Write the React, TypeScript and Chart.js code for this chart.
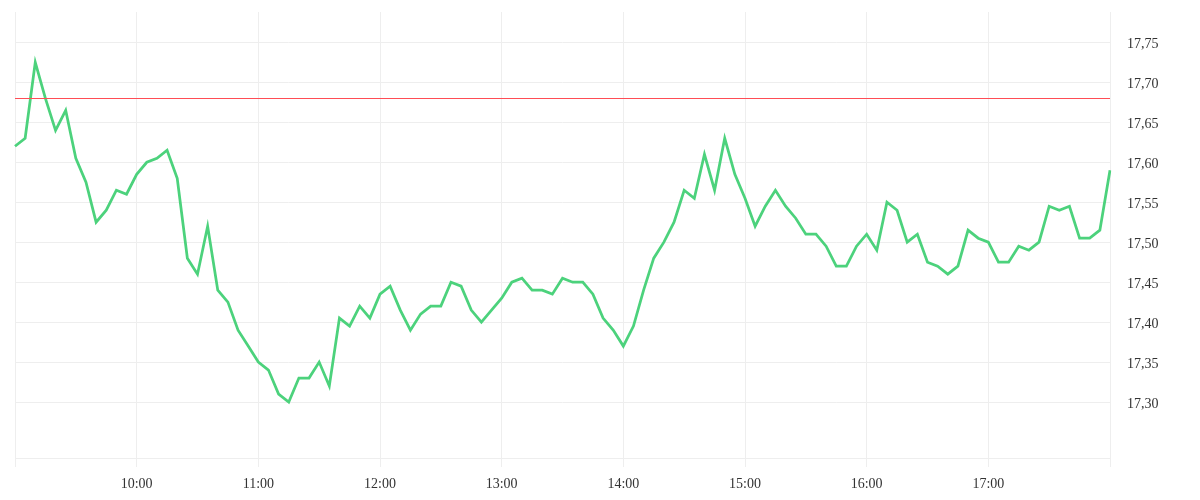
import { useEffect, useRef } from "react"
import { Chart, registerables } from "chart.js"

Chart.register(...registerables)

// quotes every 5 minutes, 09:00 .. 18:00
const START_HOUR = 9
const STEP_MINUTES = 5

const prices = [
  17.62, 17.63, 17.725, 17.68, 17.64, 17.665, 17.605, 17.575, 17.525, 17.54,
  17.565, 17.56, 17.585, 17.6, 17.605, 17.615, 17.58, 17.48, 17.46, 17.52,
  17.44, 17.425, 17.39, 17.37, 17.35, 17.34, 17.31, 17.3, 17.33, 17.33,
  17.35, 17.32, 17.405, 17.395, 17.42, 17.405, 17.435, 17.445, 17.415, 17.39,
  17.41, 17.42, 17.42, 17.45, 17.445, 17.415, 17.4, 17.415, 17.43, 17.45,
  17.455, 17.44, 17.44, 17.435, 17.455, 17.45, 17.45, 17.435, 17.405, 17.39,
  17.37, 17.395, 17.44, 17.48, 17.5, 17.525, 17.565, 17.555, 17.61, 17.565,
  17.63, 17.585, 17.555, 17.52, 17.545, 17.565, 17.545, 17.53, 17.51, 17.51,
  17.495, 17.47, 17.47, 17.495, 17.51, 17.49, 17.55, 17.54, 17.5, 17.51,
  17.475, 17.47, 17.46, 17.47, 17.515, 17.505, 17.5, 17.475, 17.475, 17.495,
  17.49, 17.5, 17.545, 17.54, 17.545, 17.505, 17.505, 17.515, 17.59,
]

// previous close
const REF_LEVEL = 17.68

const yTicks = [17.3, 17.35, 17.4, 17.45, 17.5, 17.55, 17.6, 17.65, 17.7, 17.75]

const Y_MIN = 17.23
const Y_MAX = 17.788

const pad = (n: number) => String(n).padStart(2, "0")

const timeLabels = prices.map((_, i) => {
  const m = START_HOUR * 60 + i * STEP_MINUTES
  return `${pad(Math.floor(m / 60))}:${pad(m % 60)}`
})

const FONT = { family: "'Liberation Serif', serif", size: 14 }
const GRID = "#eeeeee"

// thin red line at the previous close
const refLinePlugin = {
  id: "refLine",
  afterDraw(chart: Chart) {
    const { ctx, chartArea, scales } = chart
    const y = Math.round(scales.y.getPixelForValue(REF_LEVEL))
    ctx.save()
    ctx.fillStyle = "#ff4d55"
    ctx.fillRect(chartArea.left, y, chartArea.right - chartArea.left, 1)
    ctx.restore()
  },
}

function PriceChart() {
  const chartRef = useRef<HTMLCanvasElement>(null)
  const chartInstance = useRef<Chart | null>(null)

  useEffect(() => {
    if (!chartRef.current) return
    if (chartInstance.current) chartInstance.current.destroy()

    const ctx = chartRef.current.getContext("2d")
    if (!ctx) return

    chartInstance.current = new Chart(ctx, {
      type: "line",
      data: {
        labels: timeLabels,
        datasets: [
          {
            data: prices,
            borderColor: "#4cd27c",
            borderWidth: 2.75,
            pointRadius: 0,
            tension: 0,
            fill: false,
          },
        ],
      },
      plugins: [refLinePlugin],
      options: {
        animation: false,
        responsive: true,
        maintainAspectRatio: false,
        layout: { padding: { top: 12, left: 15, right: 0, bottom: 0 } },
        plugins: {
          legend: { display: false },
          tooltip: { enabled: false },
        },
        scales: {
          x: {
            type: "category",
            offset: false,
            // only the full hours get a grid line
            afterBuildTicks: (scale: any) => {
              scale.ticks = scale.ticks.filter((t: any) => timeLabels[t.value].endsWith(":00"))
            },
            afterFit: (scale: any) => {
              scale.height = 42
            },
            grid: { color: GRID, tickLength: 9 },
            border: { display: true, color: GRID },
            ticks: {
              autoSkip: false,
              maxRotation: 0,
              padding: 9,
              color: "#333",
              font: FONT,
              callback: (value: any) => {
                const i = Number(value)
                if (i === 0 || i === timeLabels.length - 1) return ""
                return timeLabels[i]
              },
            },
          },
          y: {
            position: "right",
            min: Y_MIN,
            max: Y_MAX,
            afterBuildTicks: (scale: any) => {
              scale.ticks = yTicks.map((v) => ({ value: v }))
            },
            afterFit: (scale: any) => {
              scale.width = 90
              scale.paddingTop = 0
              scale.paddingBottom = 0
            },
            grid: { color: GRID, drawTicks: false },
            border: { display: true, color: GRID },
            ticks: {
              padding: 17,
              labelOffset: 2,
              color: "#333",
              font: FONT,
              callback: (value: any) => Number(value).toFixed(2).replace(".", ","),
            },
          },
        },
      },
    })

    return () => {
      if (chartInstance.current) {
        chartInstance.current.destroy()
        chartInstance.current = null
      }
    }
  }, [])

  return <canvas ref={chartRef} />
}

export default function App() {
  useEffect(() => {
    document.body.style.margin = "0"
  }, [])

  return (
    <div style={{ position: "relative", width: 1200, height: 500, background: "#fff" }}>
      <PriceChart />
    </div>
  )
}
